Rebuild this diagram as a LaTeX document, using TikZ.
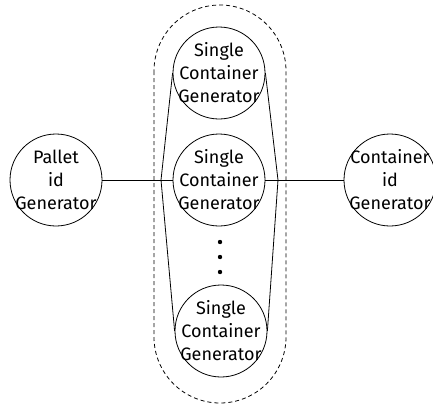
\documentclass[tikz,border=0pt]{standalone}
\usepackage{fontspec}
\setmainfont{Fira Sans}
\usepackage{tikz}

\tikzset{
  gen/.style={circle, draw, line width=0.8pt, minimum size=92pt, inner sep=0pt,
              label={[align=center, inner sep=0pt, font=\fontsize{18}{23}\selectfont]center:#1}},
  link/.style={line width=0.8pt},
}

\begin{document}
\begin{tikzpicture}[x=1pt,y=-1pt]
        \useasboundingbox (0,0) rectangle (433,405);
        \node[gen={Pallet\\id\\Generator}] (pallet) at (56,180) {};
        \node[gen={Single\\Container\\Generator}] (top) at (219,73) {};
        \node[gen={Single\\Container\\Generator}] (mid) at (219,180) {};
        \node[gen={Single\\Container\\Generator}] (bot) at (221,331) {};
        \node[gen={Container\\id\\Generator}] (cont) at (390,180) {};
        \coordinate (lv) at (161,180);
        \coordinate (rv) at (278,180);
        \draw[link] (pallet) -- (mid); % to middle
        \draw[link] (mid) -- (cont);
        \draw[link] (top.west) -- (lv) -- (bot.west); % left side
        \draw[link] (top.east) -- (rv) -- (bot.east); % right side
        \foreach \y in {242,257,272}
            \fill (220,\y) circle (2.2pt);
        \draw[link, dash pattern=on 4pt off 3pt, rounded corners=66pt] (154,5) rectangle (286,403); % group
    \end{tikzpicture}
\end{document}
